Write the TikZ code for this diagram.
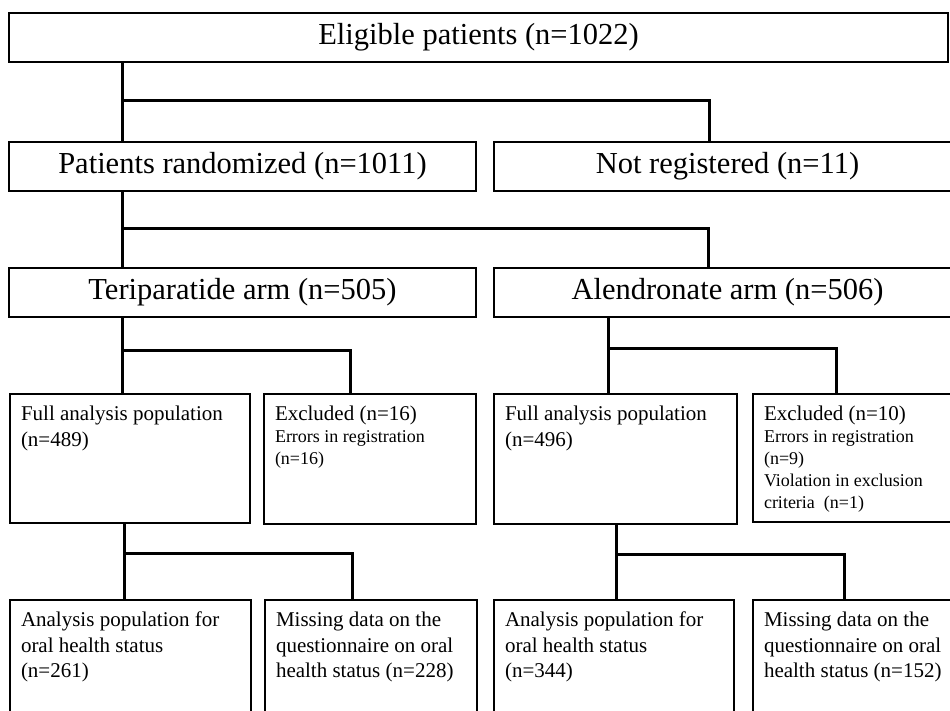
\documentclass[tikz,border=0pt]{standalone}
\usepackage{fontspec}
\setmainfont{Liberation Serif}
\newcommand{\boxtext}[3]{\parbox[t][#2][t]{#1}{\raggedright #3\par}}
\newcommand{\smallsize}{\fontsize{18}{22}\selectfont}

\begin{document}
\begin{tikzpicture}[x=1pt,y=-1pt,
        bigbox/.style={draw,line width=2pt,anchor=north west,inner sep=0pt,minimum height=49pt,font=\fontsize{30.5}{36}\selectfont},
        smallbox/.style={draw,line width=2pt,anchor=north west,inner xsep=11pt,inner ysep=12pt,font=\fontsize{21}{25.5}\selectfont},
        link/.style={line width=3pt}]
        \fill[white] (0,0) rectangle (950,710);
        \path[use as bounding box] (0,0) rectangle (950,710);
        \clip (0,0) rectangle (950,710);
        % top rows
        \node[bigbox,minimum width=939pt] (elig) at (8,12) {Eligible patients (n=1022)};
        \node[bigbox,minimum width=467pt] (rand) at (8,141) {Patients randomized (n=1011)};
        \node[bigbox,minimum width=467pt] (notreg) at (493,141) {Not registered (n=11)};
        \node[bigbox,minimum width=467pt] (teri) at (8,267) {Teriparatide arm (n=505)};
        \node[bigbox,minimum width=467pt] (alen) at (493,267) {Alendronate arm (n=506)};
        % populations
        \node[smallbox] (fullT) at (9,393) {\boxtext{218pt}{105pt}{Full analysis population\\(n=489)}};
        \node[smallbox] (exclT) at (263,393) {\boxtext{190pt}{106pt}{Excluded (n=16)\par\smallsize Errors in registration\\(n=16)}};
        \node[smallbox] (fullA) at (493,393) {\boxtext{221pt}{106pt}{Full analysis population\\(n=496)}};
        \node[smallbox] (exclA) at (752,393) {\boxtext{190pt}{104pt}{Excluded (n=10)\par\smallsize Errors in registration\\(n=9)\\Violation in exclusion\\criteria~ (n=1)}};
        \node[smallbox] (anaT) at (9,599) {\boxtext{219pt}{110pt}{Analysis population for\\oral health status\\(n=261)}};
        \node[smallbox] (missT) at (264,599) {\boxtext{190pt}{110pt}{Missing data on the\\questionnaire on oral\\health status (n=228)}};
        \node[smallbox] (anaA) at (493,599) {\boxtext{218pt}{110pt}{Analysis population for\\oral health status\\(n=344)}};
        \node[smallbox] (missA) at (752,599) {\boxtext{190pt}{110pt}{Missing data on the\\questionnaire on oral\\health status (n=152)}};
        % branch points
        \coordinate (b1) at (122,100); \coordinate (d1) at (709,100);
        \coordinate (b2) at (122,228); \coordinate (d2) at (708,228);
        \coordinate (b3) at (122,350); \coordinate (d3) at (350,350);
        \coordinate (b4) at (608,348); \coordinate (d4) at (836,348);
        \coordinate (b5) at (124,553); \coordinate (d5) at (352,553);
        \coordinate (b6) at (616,554); \coordinate (d6) at (844,554);
        \draw[link] (elig.south -| b1) -- (rand.north -| b1);
        \draw[link] (b1) -| (notreg.north -| d1);
        \draw[link] (rand.south -| b2) -- (teri.north -| b2);
        \draw[link] (b2) -| (alen.north -| d2);
        \draw[link] (teri.south -| b3) -- (fullT.north -| b3);
        \draw[link] (b3) -| (exclT.north -| d3);
        \draw[link] (alen.south -| b4) -- (fullA.north -| b4);
        \draw[link] (b4) -| (exclA.north -| d4);
        \draw[link] (fullT.south -| b5) -- (anaT.north -| b5);
        \draw[link] (b5) -| (missT.north -| d5);
        \draw[link] (fullA.south -| b6) -- (anaA.north -| b6);
        \draw[link] (b6) -| (missA.north -| d6);
    \end{tikzpicture}
\end{document}
